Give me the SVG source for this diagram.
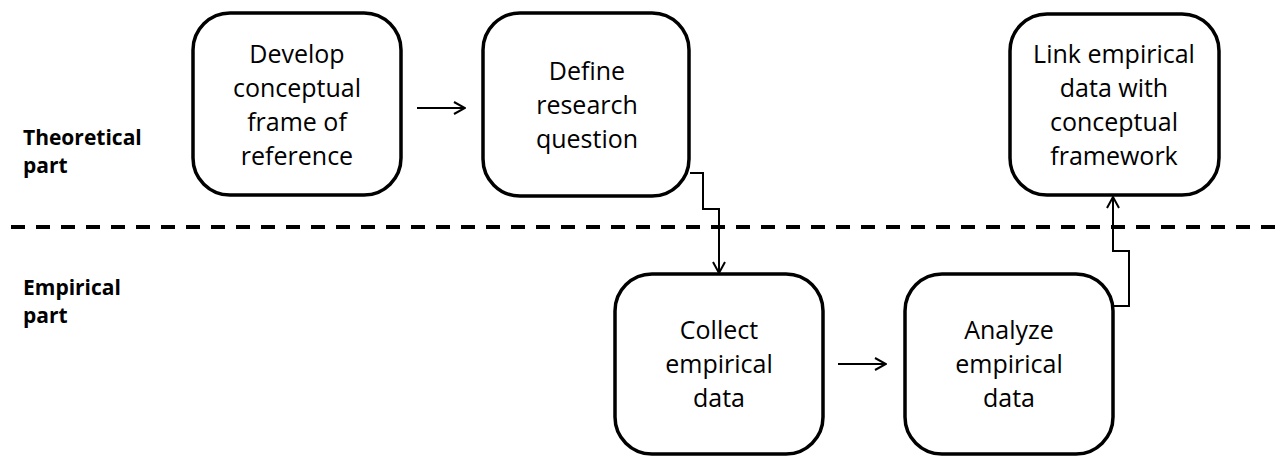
<svg xmlns="http://www.w3.org/2000/svg" width="1281" height="456" viewBox="0 0 1281 456">
<defs>
<style>
.box{fill:#fff;stroke:#000;stroke-width:3.5}
.t{font-family:"Open Sans","Liberation Sans",sans-serif;font-size:25px;fill:#000;text-anchor:middle}
.lbl{font-family:"Open Sans","Liberation Sans",sans-serif;font-size:21px;font-weight:700;fill:#000}
.c{fill:none;stroke:#000;stroke-width:2}
.dash{stroke:#000;stroke-width:4;stroke-dasharray:14 11}
</style>
<marker id="arr" viewBox="0 0 14 14" refX="13" refY="7" markerWidth="14" markerHeight="14" markerUnits="userSpaceOnUse" orient="auto">
<path d="M2,1 L13,7 L2,13" fill="none" stroke="#000" stroke-width="2"/>
</marker>
</defs>
<rect width="1281" height="456" fill="#fff"/>
<g id="labels">
<text class="lbl" x="23" y="145">Theoretical</text>
<text class="lbl" x="23" y="173">part</text>
<text class="lbl" x="23" y="295">Empirical</text>
<text class="lbl" x="23" y="323">part</text>
</g>
<line class="dash" x1="11" y1="227" x2="1281" y2="227"/>
<g id="connectors">
<path class="c" d="M417,108 H465" marker-end="url(#arr)"/>
<path class="c" d="M690,173 H703 V209 H719 V273" marker-end="url(#arr)"/>
<path class="c" d="M838,364 H886" marker-end="url(#arr)"/>
<path class="c" d="M1113,306 H1129 V251 H1113 V197" marker-end="url(#arr)"/>
</g>
<g id="n1">
<rect class="box" x="193" y="13" width="208" height="182" rx="37"/>
<text class="t" x="297" y="63">Develop</text>
<text class="t" x="297" y="97">conceptual</text>
<text class="t" x="297" y="131">frame of</text>
<text class="t" x="297" y="165">reference</text>
</g>
<g id="n2">
<rect class="box" x="483" y="13" width="206" height="183" rx="37"/>
<text class="t" x="587" y="80">Define</text>
<text class="t" x="587" y="114">research</text>
<text class="t" x="587" y="148">question</text>
</g>
<g id="n3">
<rect class="box" x="615" y="274" width="208" height="180" rx="37"/>
<text class="t" x="719" y="339">Collect</text>
<text class="t" x="719" y="373">empirical</text>
<text class="t" x="719" y="407">data</text>
</g>
<g id="n4">
<rect class="box" x="905" y="274" width="208" height="180" rx="37"/>
<text class="t" x="1009" y="339">Analyze</text>
<text class="t" x="1009" y="373">empirical</text>
<text class="t" x="1009" y="407">data</text>
</g>
<g id="n5">
<rect class="box" x="1010" y="14" width="209" height="181" rx="37"/>
<text class="t" x="1114" y="63">Link empirical</text>
<text class="t" x="1114" y="97">data with</text>
<text class="t" x="1114" y="131">conceptual</text>
<text class="t" x="1114" y="165">framework</text>
</g>
</svg>
